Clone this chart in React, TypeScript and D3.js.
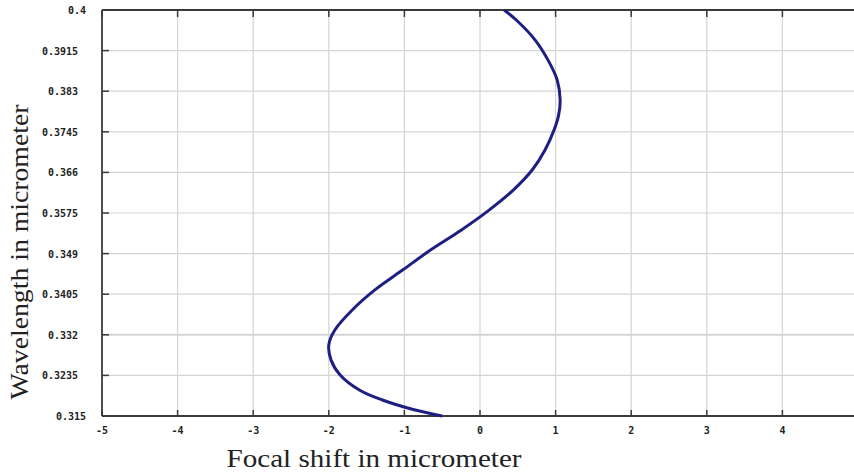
import React from "react";
import * as d3 from "d3";

const xTicks = [-5, -4, -3, -2, -1, 0, 1, 2, 3, 4];
const yTicks = [0.4, 0.3915, 0.383, 0.3745, 0.366, 0.3575, 0.349, 0.3405, 0.332, 0.3235, 0.315];
const yTickLabels = ["0.4", "0.3915", "0.383", "0.3745", "0.366", "0.3575", "0.349", "0.3405", "0.332", "0.3235", "0.315"];

// focal shift (micrometer) vs wavelength (micrometer)
const focalShift = [0.32, 0.48, 0.73, 0.9, 1.02, 1.06, 1.04, 0.98, 0.86, 0.69, 0.44, 0.12, -0.25, -0.65, -1.02, -1.39, -1.69, -1.92, -2.0, -1.97, -1.85, -1.59, -1.3, -0.87, -0.5];
const wavelength = [0.4, 0.3979, 0.3937, 0.3895, 0.3854, 0.3812, 0.378, 0.3749, 0.3707, 0.3665, 0.3623, 0.3581, 0.3539, 0.3498, 0.3456, 0.3414, 0.3372, 0.333, 0.3299, 0.3267, 0.3236, 0.3204, 0.3184, 0.3163, 0.315];

const W = 854;
const H = 472;
const left = 102;
const top = 10;
const bottom = 416;

export default function App() {
  const x = d3.scaleLinear().domain([-5, 5]).range([left, 858]);
  const y = d3.scaleLinear().domain([0.315, 0.4]).range([bottom, top]);
  const pts = focalShift.map((v, i) => [v, wavelength[i]] as [number, number]);
  const line = d3
    .line<[number, number]>()
    .x((d) => x(d[0]))
    .y((d) => y(d[1]))
    .curve(d3.curveCatmullRom.alpha(0.5));
  const axisColor = "#3a3a3a";
  const gridColor = "#d4d4d4";
  const tickFont = "'DejaVu Sans Mono', monospace";
  const serif = "'Liberation Serif', 'Times New Roman', serif";
  return (
    <svg width={W} height={H} style={{ position: "absolute", left: 0, top: 0, background: "#fff" }}>
      <rect x={0} y={0} width={W} height={H} fill="#fff" />
      {/* grid */}
      {xTicks.slice(1).map((t) => (
        <line key={"gx" + t} x1={x(t)} x2={x(t)} y1={top} y2={bottom} stroke={gridColor} strokeWidth={1.2} />
      ))}
      {yTicks.slice(1, -1).map((t) => (
        <line key={"gy" + t} x1={left} x2={W} y1={y(t)} y2={y(t)} stroke={gridColor} strokeWidth={t === 0.332 ? 2 : 1.2} />
      ))}
      {/* axes */}
      <line x1={left} x2={W} y1={top} y2={top} stroke={axisColor} strokeWidth={1.8} />
      <line x1={left} x2={W} y1={bottom} y2={bottom} stroke={axisColor} strokeWidth={1.8} />
      <line x1={left} x2={left} y1={top} y2={bottom} stroke={axisColor} strokeWidth={1.8} />
      {xTicks.map((t) => (
        <g key={"tx" + t}>
          <line x1={x(t)} x2={x(t)} y1={bottom} y2={bottom - 6} stroke={axisColor} strokeWidth={1.5} />
          <line x1={x(t)} x2={x(t)} y1={top} y2={top + 7} stroke={axisColor} strokeWidth={1.5} />
          <text x={x(t)} y={bottom + 18} textAnchor="middle" fontFamily={tickFont} fontWeight="bold" fontSize={10} fill="#222">
            {t}
          </text>
        </g>
      ))}
      {yTicks.map((t, i) => (
        <g key={"ty" + t}>
          <line x1={left} x2={left + 7} y1={y(t)} y2={y(t)} stroke={axisColor} strokeWidth={1.5} />
          <text
            x={i === 0 || i === yTicks.length - 1 ? 86 : 78}
            y={y(t) + 4}
            textAnchor="end"
            fontFamily={tickFont}
            fontWeight="bold"
            fontSize={10}
            fill="#222"
          >
            {yTickLabels[i]}
          </text>
        </g>
      ))}
      {/* curve */}
      <path d={line(pts) || ""} fill="none" stroke="#1f1f82" strokeWidth={3} strokeLinejoin="round" />
      {/* axis titles */}
      <text x={374} y={467} textAnchor="middle" fontFamily={serif} fontSize={26} fill="#222" textLength={295} lengthAdjust="spacingAndGlyphs">
        Focal shift in micrometer
      </text>
      <text
        transform="translate(28,252) rotate(-90)"
        textAnchor="middle"
        fontFamily={serif}
        fontSize={26}
        fill="#222"
        textLength={295}
        lengthAdjust="spacingAndGlyphs"
      >
        Wavelength in micrometer
      </text>
    </svg>
  );
}
